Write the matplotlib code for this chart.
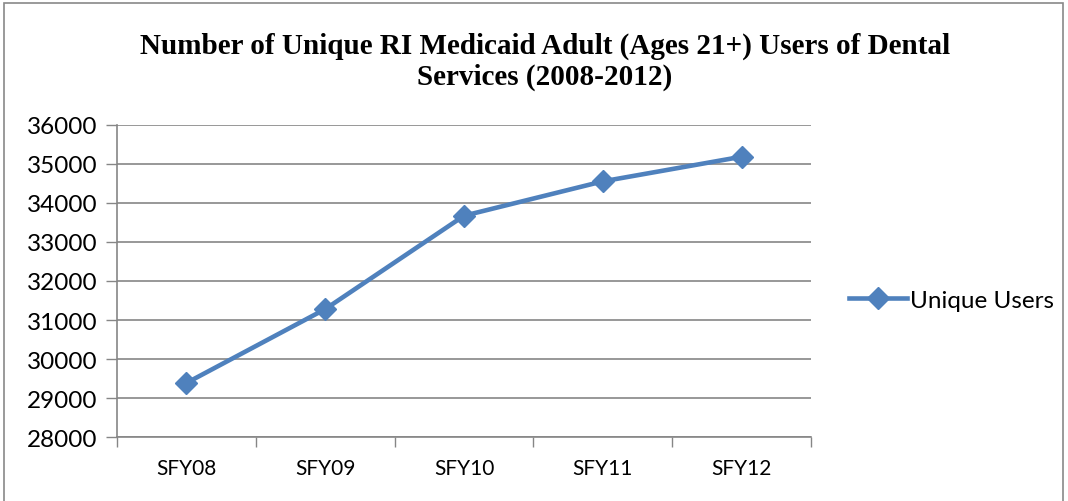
import numpy as np
import matplotlib
matplotlib.use('Agg')
import matplotlib.pyplot as plt
from matplotlib.patches import Rectangle

# data
years = ['SFY08', 'SFY09', 'SFY10', 'SFY11', 'SFY12']
unique_users = [29390, 31280, 33670, 34550, 35180]

title = 'Number of Unique RI Medicaid Adult (Ages 21+) Users of Dental\nServices (2008-2012)'

blue = '#4F81BD'
grid_gray = '#868686'

plt.rcParams['font.family'] = ['Lato', 'DejaVu Sans']

fig = plt.figure(figsize=(10.68, 5.02), dpi=100)
ax = fig.add_axes([117/1068, 1 - 438.3/502, (811 - 117)/1068, (438.3 - 125.7)/502])

x = np.arange(len(years))
ax.plot(x, unique_users, color=blue, lw=3.3, marker='D', ms=11,
        label='Unique Users', zorder=3)

ax.set_xlim(-0.5, len(years) - 0.5)
ax.set_ylim(28000, 36000)
ax.set_yticks(np.arange(28000, 36001, 1000))
ax.set_xticks(x)
ax.set_xticklabels(years, fontsize=15)
# category boundaries get the tick marks (Excel style)
ax.set_xticks(np.arange(-0.5, len(years)), minor=True)
ax.tick_params(axis='x', which='major', length=0, pad=15)
ax.tick_params(axis='x', which='minor', length=7, color=grid_gray, width=1)
ax.tick_params(axis='y', length=8, color=grid_gray, width=1, labelsize=17.5, pad=6)

ax.yaxis.grid(True, color=grid_gray, lw=1.2)
ax.set_axisbelow(True)
for side in ['top', 'right']:
    ax.spines[side].set_visible(False)
for side in ['left', 'bottom']:
    ax.spines[side].set_color(grid_gray)
    ax.spines[side].set_linewidth(1.2)

fig.text(545/1068, 1 - 62/502, title, ha='center', va='center',
         fontsize=21, fontweight='bold', family='Liberation Serif',
         linespacing=1.2)

leg = ax.legend(loc='center left', bbox_to_anchor=(849/1068, 1 - 301/502),
                bbox_transform=fig.transFigure, frameon=False,
                fontsize=17.5, handlelength=2.4, handletextpad=0.1,
                borderpad=0, borderaxespad=0)

# outer chart frame
fig.patches.append(Rectangle((4/1068, -0.02), 1059/1068, 1.02 - 4/502,
                             transform=fig.transFigure, fill=False,
                             edgecolor='#898989', lw=1.2))

fig.savefig('out.png', dpi=100)
